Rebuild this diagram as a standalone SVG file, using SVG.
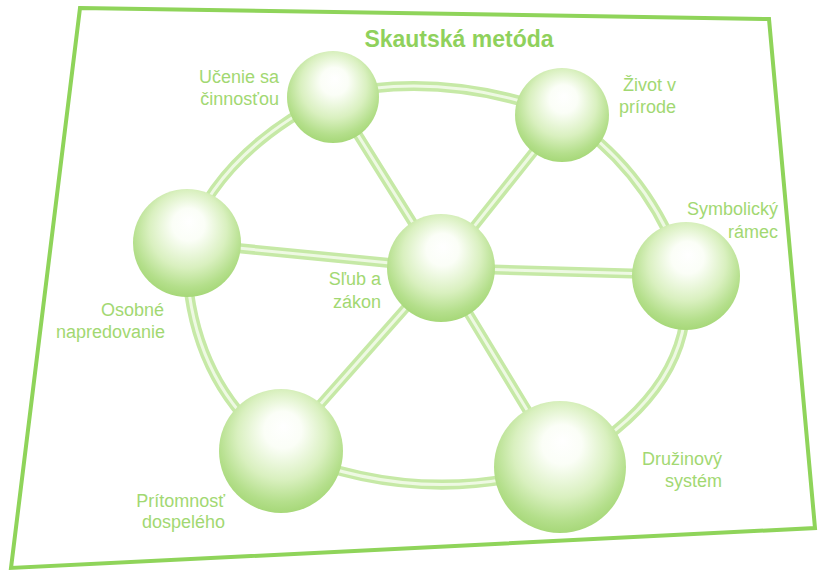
<svg xmlns="http://www.w3.org/2000/svg" width="819" height="571" viewBox="0 0 819 571">
<defs>
<radialGradient id="ball" cx="0.5" cy="0.42" r="0.6" fx="0.52" fy="0.3">
<stop offset="0" stop-color="#ffffff"/>
<stop offset="0.25" stop-color="#fbfef7"/>
<stop offset="0.6" stop-color="#d9f0bf"/>
<stop offset="0.85" stop-color="#b4df8b"/>
<stop offset="1" stop-color="#a3d674"/>
</radialGradient>
<style>
.lbl{font-family:"Liberation Sans",Arial,sans-serif;font-size:18px;fill:#a2d872;text-anchor:end}
.title{font-family:"Liberation Sans",Arial,sans-serif;font-size:23px;font-weight:bold;fill:#8fd15c;text-anchor:middle}
.tube{fill:none;stroke:#c6e9a6;stroke-width:10;stroke-linecap:round}
.tubein{fill:none;stroke:#eef9e3;stroke-width:3;stroke-linecap:round}
.ball{fill:url(#ball)}
</style>
</defs>
<rect width="819" height="571" fill="#ffffff"/>
<polygon points="80,8 769,19 815,528 11,568" fill="none" stroke="#8fd45a" stroke-width="4"/>
<text class="title" x="459" y="47">Skautská metóda</text>
<g id="connectors">
<path class="tube" d="M333,95 Q445,70 563,115 M563,115 Q650,170 685,275 M685,275 Q700,390 561,466 M561,466 Q420,510 280,450 M280,450 Q185,380 186,243 M186,243 Q220,150 333,95"/>
<path class="tube" d="M441,268 L333,95 M441,268 L563,115 M441,268 L186,243 M441,268 L685,275 M441,268 L280,450 M441,268 L561,466"/>
<path class="tubein" d="M333,95 Q445,70 563,115 M563,115 Q650,170 685,275 M685,275 Q700,390 561,466 M561,466 Q420,510 280,450 M280,450 Q185,380 186,243 M186,243 Q220,150 333,95"/>
<path class="tubein" d="M441,268 L333,95 M441,268 L563,115 M441,268 L186,243 M441,268 L685,275 M441,268 L280,450 M441,268 L561,466"/>
</g>
<g id="n-ucenie"><circle class="ball" cx="333" cy="97" r="46"/><text class="lbl" x="279" y="83">Učenie sa</text><text class="lbl" x="279" y="105">činnosťou</text></g>
<g id="n-zivot"><circle class="ball" cx="562" cy="115" r="47"/><text class="lbl" x="676" y="91">Život  v</text><text class="lbl" x="676" y="113">prírode</text></g>
<g id="n-osobne"><circle class="ball" cx="187" cy="243" r="54"/><text class="lbl" x="164" y="316">Osobné</text><text class="lbl" x="165" y="338">napredovanie</text></g>
<g id="n-slub"><circle class="ball" cx="441" cy="268" r="54"/><text class="lbl" x="381" y="285">Sľub a</text><text class="lbl" x="381" y="308">zákon</text></g>
<g id="n-symbol"><circle class="ball" cx="686" cy="276" r="54"/><text class="lbl" x="778" y="215">Symbolický</text><text class="lbl" x="778" y="238">rámec</text></g>
<g id="n-pritomnost"><circle class="ball" cx="281" cy="451" r="62"/><text class="lbl" x="225" y="507">Prítomnosť</text><text class="lbl" x="225" y="528">dospelého</text></g>
<g id="n-druzina"><circle class="ball" cx="560" cy="467" r="66"/><text class="lbl" x="722" y="465">Družinový</text><text class="lbl" x="722" y="487">systém</text></g>
</svg>
